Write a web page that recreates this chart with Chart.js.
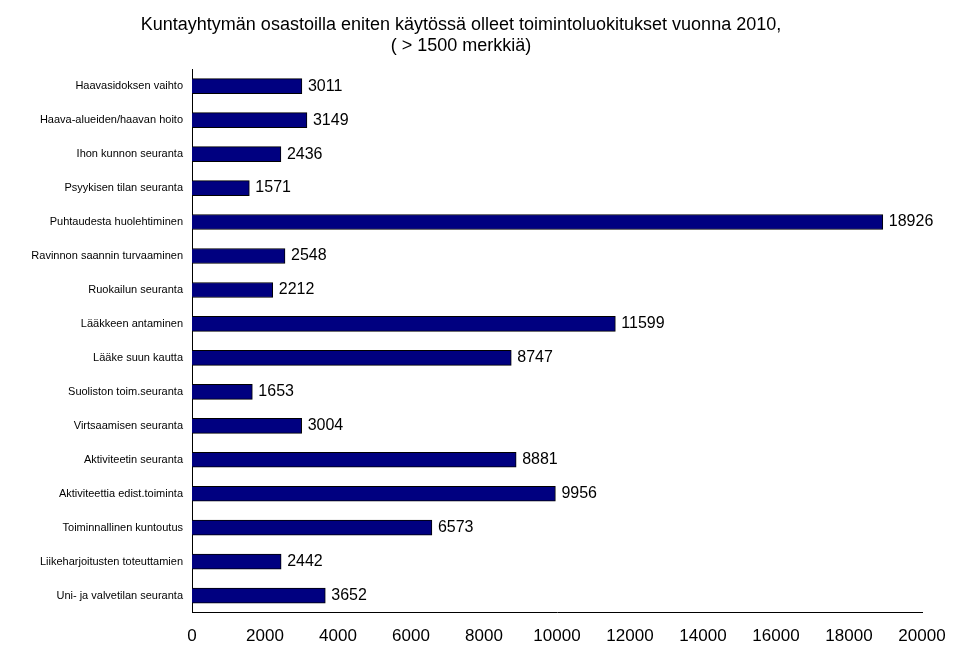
<!DOCTYPE html>
<html><head><meta charset="utf-8">
<script src="https://cdn.jsdelivr.net/npm/chart.js@4"></script>
<style>body{margin:0;background:#fff}#wrap{width:960px;height:661px}</style>
</head><body><div id="wrap"><canvas id="c"></canvas></div>
<script>
const categories = ["Haavasidoksen vaihto","Haava-alueiden/haavan hoito","Ihon kunnon seuranta","Psyykisen tilan seuranta","Puhtaudesta huolehtiminen","Ravinnon saannin turvaaminen","Ruokailun seuranta","Lääkkeen antaminen","Lääke suun kautta","Suoliston toim.seuranta","Virtsaamisen seuranta","Aktiviteetin seuranta","Aktiviteettia edist.toiminta","Toiminnallinen kuntoutus","Liikeharjoitusten toteuttamien","Uni- ja valvetilan seuranta"];
const counts = [3011,3149,2436,1571,18926,2548,2212,11599,8747,1653,3004,8881,9956,6573,2442,3652];
const xTicks = [0,2000,4000,6000,8000,10000,12000,14000,16000,18000,20000];

const font = "'Liberation Sans Narrow','Liberation Sans',Arial,sans-serif";

// value labels to the right of each bar
const valueLabels = {
  id: "valueLabels",
  afterDatasetsDraw(chart) {
    const ctx = chart.ctx;
    const meta = chart.getDatasetMeta(0);
    ctx.save();
    ctx.font = "16px " + font;
    ctx.fillStyle = "#000";
    ctx.textBaseline = "middle";
    meta.data.forEach((bar, i) => {
      ctx.fillText(String(counts[i]), bar.x + 6, bar.y);
    });
    ctx.restore();
  }
};

new Chart(document.getElementById("c"), {
  type: "bar",
  data: {
    labels: categories,
    datasets: [{
      data: counts,
      backgroundColor: "#000080",
      borderColor: "#000",
      borderWidth: 1,
      barThickness: 15
    }]
  },
  options: {
    indexAxis: "y",
    responsive: true,
    maintainAspectRatio: false,
    animation: false,
    layout: { padding: { left: 0, right: 38, top: 2, bottom: 6 } },
    plugins: {
      legend: { display: false },
      tooltip: { enabled: false },
      title: {
        display: true,
        text: ["Kuntayhtymän osastoilla eniten käytössä olleet toimintoluokitukset vuonna 2010,", "( > 1500 merkkiä)"],
        font: { family: font, size: 18, weight: "normal" },
        color: "#000",
        padding: { top: 12, bottom: 12 }
      }
    },
    scales: {
      x: {
        min: 0, max: 20000,
        afterBuildTicks: a => { a.ticks = xTicks.map(v => ({ value: v })); },
        grid: { display: false, drawTicks: true, tickLength: 6, color: "#000" },
        border: { color: "#000" },
        ticks: { color: "#000", font: { family: font, size: 17 }, maxRotation: 0, padding: 8, callback: v => String(v) }
      },
      y: {
        afterFit: a => { a.width = 192; },
        grid: { display: false, drawTicks: true, tickLength: 5, color: "#000" },
        border: { color: "#000" },
        ticks: { color: "#000", font: { family: "'Liberation Sans',Arial,sans-serif", size: 11 }, padding: 4 }
      }
    }
  },
  plugins: [valueLabels]
});
</script></body></html>
